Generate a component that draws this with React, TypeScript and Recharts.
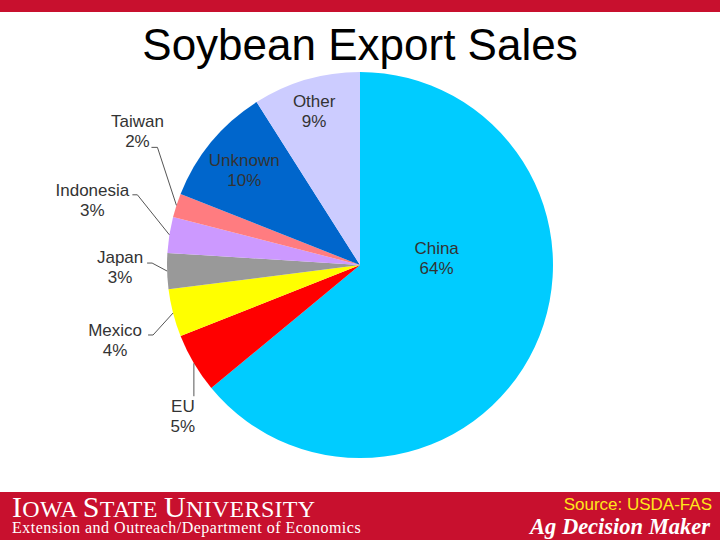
import React from 'react';
import { PieChart, Pie, Cell } from 'recharts';

const categories = ['China', 'EU', 'Mexico', 'Japan', 'Indonesia', 'Taiwan', 'Unknown', 'Other'];
const shares = [64, 5, 4, 3, 3, 2, 10, 9];
const sliceColors = ['#00CCFF', '#FF0000', '#FFFF00', '#999999', '#CC99FF', '#FF7C80', '#0066CC', '#CCCCFF'];

const RED = '#C8102E';
const RAD = Math.PI / 180;

// label placement, offsets from the slice's outer-edge midpoint
// tx/ty = centre of the two-line label, lx/ly = leader line elbow
const labelLayout: Record<string, { tx: number; ty: number; lx?: number; ly?: number; tail?: number }> = {
  China: { tx: -98, ty: -89 },
  Unknown: { tx: 33, ty: 28 },
  Other: { tx: 8, ty: 31 },
  EU: { tx: -11, ty: 53, lx: 0, ly: 33, tail: 0 },
  Mexico: { tx: -58, ty: 27, lx: -20, ly: 22, tail: 5 },
  Japan: { tx: -47, ty: -4, lx: -15, ly: -8, tail: 5 },
  Indonesia: { tx: -77, ty: -35, lx: -32, ly: -40, tail: 5 },
  Taiwan: { tx: -39, ty: -74, lx: -19, ly: -58, tail: 6 },
};

const data = categories.map((name, i) => ({ name, value: shares[i] }));

const renderLabel = (props: any) => {
  const { cx, cy, midAngle, outerRadius, name, value } = props;
  const layout = labelLayout[name];
  if (!layout) return null;
  const ex = cx + outerRadius * Math.cos(-midAngle * RAD);
  const ey = cy + outerRadius * Math.sin(-midAngle * RAD);
  const x = ex + layout.tx;
  const y = ey + layout.ty;
  let line = null;
  if (layout.lx !== undefined && layout.ly !== undefined) {
    const bx = ex + layout.lx;
    const by = ey + layout.ly;
    const pts = `${ex},${ey} ${bx},${by} ${bx - (layout.tail || 0)},${by}`;
    line = <polyline points={pts} fill="none" stroke="#555" strokeWidth={1} />;
  }
  return (
    <g key={`lbl-${name}`}>
      {line}
      <text
        x={x}
        y={y - 4}
        textAnchor="middle"
        fontFamily="'Liberation Sans', Arial, sans-serif"
        fontSize={17}
        fill="#333"
      >
        <tspan x={x}>{name}</tspan>
        <tspan x={x} dy={20}>{value}%</tspan>
      </text>
    </g>
  );
};

const serif = "'Liberation Serif', 'Times New Roman', serif";

export default function App() {
  return (
    <div
      style={{
        position: 'absolute',
        left: 0,
        top: 0,
        width: 720,
        height: 540,
        background: '#fff',
        overflow: 'hidden',
      }}
    >
      <div style={{ position: 'absolute', left: 0, top: 0, width: 720, height: 12, background: RED }} />

      <div
        style={{
          position: 'absolute',
          left: 0,
          top: 23,
          width: 720,
          textAlign: 'center',
          fontFamily: "'Liberation Sans', Arial, sans-serif",
          fontSize: 44,
          lineHeight: '44px',
          color: '#000',
        }}
      >
        Soybean Export Sales
      </div>

      <div style={{ position: 'absolute', left: 0, top: 0 }}>
        <PieChart width={720} height={540} margin={{ top: 0, right: 0, bottom: 0, left: 0 }}>
          <Pie
            data={data}
            dataKey="value"
            nameKey="name"
            cx={360}
            cy={265}
            outerRadius={193}
            startAngle={90}
            endAngle={-270}
            stroke="none"
            label={renderLabel}
            labelLine={false}
            isAnimationActive={false}
          >
            {data.map((d, i) => (
              <Cell key={d.name} fill={sliceColors[i]} />
            ))}
          </Pie>
        </PieChart>
      </div>

      <div style={{ position: 'absolute', left: 0, top: 492, width: 720, height: 48, background: RED }}>
        <div
          style={{
            position: 'absolute',
            left: 12,
            top: 2,
            fontFamily: serif,
            fontSize: 24,
            lineHeight: '26px',
            letterSpacing: 0.3,
            color: '#fff',
            whiteSpace: 'nowrap',
          }}
        >
          <span style={{ fontSize: 30 }}>I</span>OWA <span style={{ fontSize: 30 }}>S</span>TATE{' '}
          <span style={{ fontSize: 30 }}>U</span>NIVERSITY
        </div>
        <div
          style={{
            position: 'absolute',
            left: 12,
            top: 30,
            fontFamily: serif,
            fontSize: 16,
            lineHeight: '12px',
            letterSpacing: 0.5,
            color: '#fff',
            whiteSpace: 'nowrap',
          }}
        >
          Extension and Outreach/Department of Economics
        </div>
        <div
          style={{
            position: 'absolute',
            right: 8,
            top: 4,
            fontFamily: "'Liberation Sans', Arial, sans-serif",
            fontSize: 17,
            lineHeight: '17px',
            color: '#FFE81A',
            whiteSpace: 'nowrap',
          }}
        >
          Source: USDA-FAS
        </div>
        <div
          style={{
            position: 'absolute',
            right: 10,
            top: 26,
            fontFamily: serif,
            fontSize: 22.5,
            lineHeight: '18px',
            fontStyle: 'italic',
            fontWeight: 'bold',
            color: '#fff',
            whiteSpace: 'nowrap',
          }}
        >
          Ag Decision Maker
        </div>
      </div>
    </div>
  );
}
